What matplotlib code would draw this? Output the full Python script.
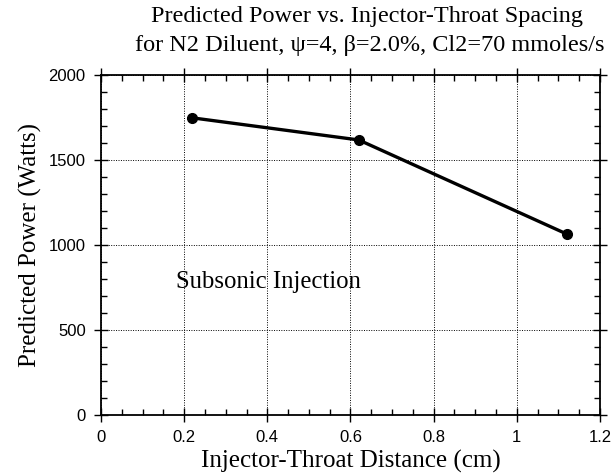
import matplotlib
matplotlib.use("Agg")
from matplotlib import pyplot as plt
from matplotlib.ticker import MultipleLocator

# data
distance = [0.22, 0.62, 1.12]      # injector-throat distance (cm)
power = [1748, 1618, 1065]         # predicted power (W)

plt.rcParams['font.family'] = ['Liberation Serif', 'DejaVu Serif']

fig = plt.figure(figsize=(6.14, 4.73), dpi=100)
ax = fig.add_axes([0.1645, 0.1226, 0.8125, 0.7188])

ax.plot(distance, power, color='black', lw=2.4, marker='o', ms=7)

ax.set_xlim(0, 1.2)
ax.set_ylim(0, 2000)
ax.xaxis.set_major_locator(MultipleLocator(0.2))
ax.xaxis.set_minor_locator(MultipleLocator(0.05))
ax.yaxis.set_major_locator(MultipleLocator(500))
ax.yaxis.set_minor_locator(MultipleLocator(100))
ax.set_xticks([0, 0.2, 0.4, 0.6, 0.8, 1, 1.2], ['0', '0.2', '0.4', '0.6', '0.8', '1', '1.2'])

ax.tick_params(which='major', direction='inout', length=10, width=1, top=True, right=True, pad=6)
ax.tick_params(which='minor', direction='in', length=4, width=1, top=True, right=True)
ax.tick_params(labelsize=12)
for lab in ax.get_xticklabels() + ax.get_yticklabels():
    lab.set_family(['Liberation Sans Narrow', 'Liberation Sans', 'DejaVu Sans'])

ax.grid(True, which='major', linestyle=(0, (1, 1.5)), color='black', lw=0.7)
for s in ax.spines.values():
    s.set_linewidth(1.3)

ax.text(0.18, 782, 'Subsonic Injection', fontsize=17.8, va='center')
ax.set_xlabel('Injector-Throat Distance (cm)', fontsize=18, labelpad=3)
ax.set_ylabel('Predicted Power (Watts)', fontsize=18, labelpad=5)
fig.text(0.598, 0.966, 'Predicted Power vs. Injector-Throat Spacing', ha='center', va='center', fontsize=17.5)
fig.text(0.602, 0.903, 'for N2 Diluent, \u03c8=4, \u03b2=2.0%, Cl2=70 mmoles/s', ha='center', va='center', fontsize=17.5)

plt.savefig('out.png')
